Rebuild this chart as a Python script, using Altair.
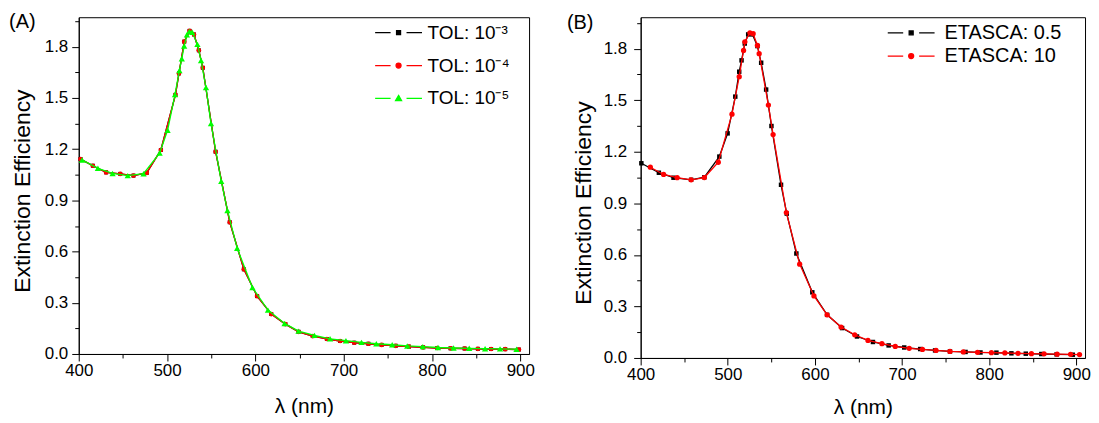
import altair as alt
import pandas as pd

FONT = "Liberation Sans"

# ---------------- data ----------------
A_SERIES = ["TOL: 10⁻³", "TOL: 10⁻⁴", "TOL: 10⁻⁵"]
A_COLORS = ["#000000", "#ff0000", "#00ff00"]
B_SERIES = ["ETASCA: 0.5", "ETASCA: 10"]
B_COLORS = ["#000000", "#ff0000"]

a1_x = [402, 416, 431, 447, 462, 477, 493, 509.5, 513.5, 519.5, 525.5, 530.5, 536, 540.5, 555, 571, 587, 602, 618, 634,
        649, 665, 681, 696, 712, 728, 743, 759, 774, 790, 806, 821, 837, 852, 867, 883, 898.5]
a1_y = [1.142, 1.103, 1.064, 1.055, 1.045, 1.061, 1.195, 1.518, 1.644, 1.830, 1.893, 1.872, 1.779, 1.677, 1.185, 0.772,
        0.496, 0.339, 0.234, 0.175, 0.130, 0.105, 0.088, 0.076, 0.066, 0.060, 0.053, 0.048, 0.043, 0.039, 0.035, 0.033,
        0.032, 0.030, 0.029, 0.028, 0.026]

a2_x = [402, 416, 431, 447, 462, 477, 493, 509.5, 513.5, 519.5, 525.5, 530.5, 536, 540.5, 555, 571, 587, 602, 618, 634,
        649, 665, 681, 696, 712, 728, 743, 759, 774, 790, 806, 821, 837, 852, 867, 883, 898.5]
a2_y = [1.142, 1.103, 1.064, 1.055, 1.045, 1.061, 1.195, 1.518, 1.644, 1.830, 1.893, 1.872, 1.779, 1.677, 1.185, 0.772,
        0.496, 0.339, 0.234, 0.175, 0.130, 0.105, 0.088, 0.076, 0.066, 0.060, 0.053, 0.048, 0.043, 0.039, 0.035, 0.033,
        0.032, 0.030, 0.029, 0.028, 0.026]

a3_x = [403.7, 421.7, 438.3, 455.5, 473.4, 491.6, 500.6, 509, 514, 516.7, 519.4, 522.5, 525.3, 528.5, 534.4, 538.5,
        544.1, 549.8, 561.4, 568.4, 579.4, 596.7, 614.3, 633.1, 648.9, 666.9, 684.6, 702.6, 720.2, 737, 755, 772,
        789.6, 806.9, 824.5, 842.2, 860.2, 877.1, 895.8]
a3_y = [1.137, 1.088, 1.058, 1.045, 1.056, 1.177, 1.311, 1.520, 1.661, 1.730, 1.804, 1.870, 1.890, 1.885, 1.814, 1.720,
        1.561, 1.350, 1.012, 0.841, 0.620, 0.389, 0.257, 0.179, 0.134, 0.109, 0.089, 0.078, 0.068, 0.060, 0.054, 0.047,
        0.043, 0.038, 0.035, 0.033, 0.031, 0.030, 0.028]

b1_x = [400.8, 420.9, 437.7, 457.9, 473.1, 490.3, 499.8, 508.6, 513.1, 515.8, 519.5, 523.4, 528.3, 534, 538.3, 544,
        550.1, 561.1, 567.7, 578.7, 597, 614, 631.2, 648.3, 666.6, 684.6, 702.5, 720.8, 737.9, 755, 772.9, 790, 808.3,
        825.5, 842, 859.8, 877.4, 896]
b1_y = [1.133, 1.078, 1.049, 1.037, 1.052, 1.172, 1.307, 1.521, 1.666, 1.732, 1.830, 1.883, 1.883, 1.815, 1.718, 1.562,
        1.350, 1.008, 0.840, 0.608, 0.382, 0.251, 0.174, 0.125, 0.093, 0.073, 0.061, 0.052, 0.044, 0.038, 0.035, 0.032,
        0.031, 0.027, 0.025, 0.023, 0.021, 0.019]

b2_x = [411.1, 426.3, 441.9, 457.9, 473.1, 489.1, 504.8, 513.1, 518.1, 519.6, 525.4, 529.1, 534, 536, 546.6, 552,
        567.2, 582.5, 598.9, 614, 630, 645.7, 660.9, 676.9, 692.2, 708.2, 723.4, 739, 755, 770.3, 786.6, 802.6, 818,
        833.1, 848.5, 863, 878, 893.4, 903.7]
b2_y = [1.110, 1.068, 1.049, 1.037, 1.050, 1.139, 1.419, 1.637, 1.790, 1.840, 1.892, 1.887, 1.819, 1.771, 1.472, 1.300,
        0.846, 0.546, 0.361, 0.251, 0.180, 0.135, 0.102, 0.083, 0.067, 0.056, 0.050, 0.044, 0.038, 0.035, 0.033, 0.031,
        0.029, 0.027, 0.025, 0.024, 0.022, 0.021, 0.020]

X_TICKS = [400, 450, 500, 550, 600, 650, 700, 750, 800, 850, 900]
Y_TICKS = [0.0, 0.15, 0.3, 0.45, 0.6, 0.75, 0.9, 1.05, 1.2, 1.35, 1.5, 1.65, 1.8, 1.95]

# legend glyphs: line - marker - line
LEG_SQUARE = "M-4.7,0H-1.6M1.6,0H4.7M-0.4,-0.4H0.4V0.4H-0.4Z"
LEG_CIRCLE = "M-4.7,0H-1.6M1.6,0H4.7M0.5,0A0.5,0.5 0 1,1 -0.5,0A0.5,0.5 0 1,1 0.5,0Z"
LEG_TRI = "M-4.7,0H-1.6M1.6,0H4.7M0,-0.6L0.6,0.45H-0.6Z"


def panel(names, xs_list, ys_list, colors, shapes, sizes, leg_paths, width, height, ymax,
          ylab_pad, ytitle_x, ytitle_y, xtitle_y, label, label_x, label_y,
          leg_x, leg_y, leg_font, leg_row_pad, leg_label_offset):
    x_axis = alt.Axis(
        values=X_TICKS,
        labelExpr="datum.value % 100 == 0 ? datum.label : ''",
        tickSize={"condition": {"test": "datum.value % 100 == 0", "value": 7}, "value": 4},
        tickColor="black", tickWidth=1, domainColor="black", domainWidth=1,
        labelFont=FONT, labelFontSize=17, labelColor="black", labelPadding=2,
        labelFlush=False, labelOverlap=False, grid=False,
        title="λ (nm)", titleFont=FONT, titleFontSize=21, titleFontWeight="normal",
        titleColor="black", titleY=xtitle_y, titleBaseline="alphabetic",
    )
    y_axis = alt.Axis(
        values=[v for v in Y_TICKS if v <= ymax],
        labelExpr="round(datum.value*100) % 30 == 0 ? format(datum.value, '.1f') : ''",
        tickSize={"condition": {"test": "round(datum.value*100) % 30 == 0", "value": 7}, "value": 4},
        tickColor="black", tickWidth=1, domainColor="black", domainWidth=1,
        labelFont=FONT, labelFontSize=17, labelColor="black", labelPadding=ylab_pad,
        labelFlush=False, labelOverlap=False, grid=False,
        title="Extinction Efficiency", titleFont=FONT, titleFontSize=23, titleFontWeight="normal",
        titleColor="black", titleX=ytitle_x, titleY=ytitle_y, titleAngle=270, titleBaseline="alphabetic",
    )
    X = alt.X("wl:Q", scale=alt.Scale(domain=[400, 910], nice=False, zero=False), axis=x_axis)
    Y = alt.Y("ext:Q", scale=alt.Scale(domain=[0, ymax], nice=False, zero=False), axis=y_axis)

    layers = []
    for xs, ys, c, shp, sz in zip(xs_list, ys_list, colors, shapes, sizes):
        df = pd.DataFrame({"wl": xs, "ext": ys})
        base = alt.Chart(df)
        layers.append(base.mark_line(color=c, strokeWidth=1.3).encode(x=X, y=Y))
        layers.append(base.mark_point(filled=True, color=c, shape=shp, size=sz, opacity=1).encode(x=X, y=Y))

    leg = alt.Legend(
        orient="none", legendX=leg_x, legendY=leg_y, padding=0,
        symbolSize=100, symbolStrokeWidth=1.3, symbolOpacity=1,
        labelFont=FONT, labelFontSize=leg_font, labelColor="black",
        labelOffset=leg_label_offset, rowPadding=leg_row_pad, labelLimit=0,
    )
    leg_df = pd.DataFrame({"s": names})
    legend_layer = alt.Chart(leg_df).mark_point(filled=True, opacity=1, strokeWidth=1.3).encode(
        color=alt.Color("s:N", scale=alt.Scale(domain=names, range=colors), legend=leg, title=None),
        stroke=alt.Stroke("s:N", scale=alt.Scale(domain=names, range=colors), legend=leg, title=None),
        shape=alt.Shape("s:N", scale=alt.Scale(domain=names, range=leg_paths), legend=leg, title=None),
    ).transform_filter("false")
    layers.append(legend_layer)

    txt = alt.Chart(pd.DataFrame({"t": [label]})).mark_text(
        align="left", baseline="middle", font=FONT, fontSize=20, color="black"
    ).encode(x=alt.value(label_x), y=alt.value(label_y), text="t:N")
    layers.append(txt)

    return alt.layer(*layers).properties(width=width, height=height)


chart_a = panel(A_SERIES, [a1_x, a2_x, a3_x], [a1_y, a2_y, a3_y], A_COLORS,
                ["square", "circle", "triangle-up"], [16, 22, 40], [LEG_SQUARE, LEG_CIRCLE, LEG_TRI],
                width=452, height=338, ymax=1.973,
                ylab_pad=4, ytitle_x=-49, ytitle_y=174, xtitle_y=59,
                label="(A)", label_x=-70, label_y=5,
                leg_x=311.5, leg_y=6, leg_font=19, leg_row_pad=13, leg_label_offset=19.5)

chart_b = panel(B_SERIES, [b1_x, b2_x], [b1_y, b2_y], B_COLORS,
                ["square", "circle"], [20, 28], [LEG_SQUARE, LEG_CIRCLE],
                width=446, height=342, ymax=1.983,
                ylab_pad=7, ytitle_x=-50, ytitle_y=186, xtitle_y=56,
                label="(B)", label_x=-74, label_y=5.5,
                leg_x=261.5, leg_y=5.7, leg_font=20, leg_row_pad=3.3, leg_label_offset=23.5)

chart = alt.hconcat(chart_a, chart_b, spacing=31).resolve_scale(
    color="independent", stroke="independent", shape="independent"
).resolve_legend(
    color="independent", stroke="independent", shape="independent"
).properties(
    padding={"left": 0, "top": 2.5, "right": 0, "bottom": 0}
).configure_view(stroke="black", strokeWidth=1)

chart.save("out.html", embed_options={"renderer": "svg", "actions": False})
